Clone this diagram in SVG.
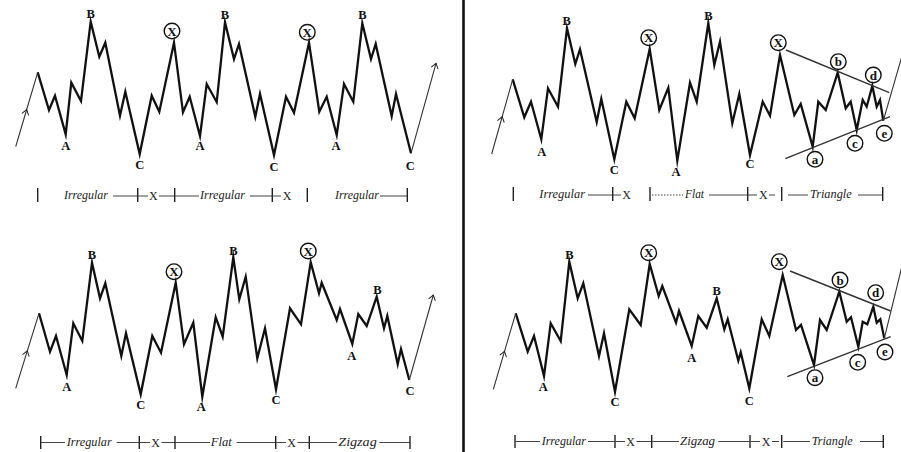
<svg xmlns="http://www.w3.org/2000/svg" width="901" height="452" viewBox="0 0 901 452">
<defs>
<marker id="chev" viewBox="-6 -5 8 10" markerWidth="8" markerHeight="10" markerUnits="userSpaceOnUse" orient="auto" refX="0" refY="0">
<path d="M-5,-3.5 L0,0 L-5,3.5" fill="none" stroke="#222" stroke-width="1"/>
</marker>
<style>
.wave{fill:none;stroke:#111;stroke-width:2.3;stroke-linejoin:miter;stroke-miterlimit:10}
.thin{fill:none;stroke:#333;stroke-width:1.1}
.trend{fill:none;stroke:#333;stroke-width:1.4}
.lbl{font-family:"Liberation Serif",serif;font-weight:bold;font-size:12.5px;fill:#111;text-anchor:middle}
.cl{font-family:"Liberation Serif",serif;font-weight:bold;font-size:13px;fill:#111;text-anchor:middle}
.circ{fill:none;stroke:#111;stroke-width:1.4}
.row{font-family:"Liberation Serif",serif;font-style:italic;font-size:12px;fill:#222}
.rx{font-family:"Liberation Serif",serif;font-size:12px;fill:#222;text-anchor:middle}
.tick{stroke:#222;stroke-width:1.4}
.rl{stroke:#444;stroke-width:1}
.div{stroke:#111;stroke-width:2.6}
</style>
</defs>
<rect x="0" y="0" width="901" height="452" fill="#ffffff"/>
<line class="div" x1="463.5" y1="0" x2="463.5" y2="452"/>

<!-- Top-left panel -->
<g id="tl-wave">
<path class="wave" d="M37.7,72.3 L49,110 L55,95.7 L65.7,134.3 L71.3,82.7 L81,101 L90.7,21.7 L99.3,56.7 L105.3,42.7 L120,115.7 L125.3,91.7 L139.7,154 L151.7,95.7 L159.3,111.7 L174,42.7 L183,112.3 L189.7,96.7 L200,136 L206.7,84 L216.7,102 L225,22.3 L234,59 L239,44 L255.3,116.7 L260,94 L274,155 L286,96.7 L294,112.7 L309,42.7 L319.3,111.7 L326.7,96.7 L336.7,135 L344,84 L353.3,101.7 L362.3,23.3 L371,59 L375.7,44 L391.7,116 L396,94 L411,153.3"/>
</g>
<g id="tl-labels">
<text class="lbl" x="90.7" y="18">B</text>
<text class="lbl" x="65.7" y="150">A</text>
<text class="lbl" x="139.7" y="168.5">C</text>
<circle class="circ" cx="172" cy="31" r="7.8"/><text class="cl" x="172" y="35.5">X</text>
<text class="lbl" x="200" y="150">A</text>
<text class="lbl" x="225" y="18.5">B</text>
<text class="lbl" x="274" y="171">C</text>
<circle class="circ" cx="307.3" cy="32.3" r="7.8"/><text class="cl" x="307.3" y="36.8">X</text>
<text class="lbl" x="336" y="149.5">A</text>
<text class="lbl" x="362.3" y="18.5">B</text>
<text class="lbl" x="410.3" y="170">C</text>
</g>
<g id="tl-row">
<line class="tick" x1="37.7" y1="188" x2="37.7" y2="202"/>
<text class="row" x="64" y="199" textLength="44" lengthAdjust="spacingAndGlyphs">Irregular</text>
<line class="rl" x1="113" y1="196" x2="137" y2="196"/>
<line class="tick" x1="137.7" y1="188" x2="137.7" y2="202"/>
<line class="rl" x1="138" y1="196" x2="148" y2="196"/>
<text class="rx" x="153.3" y="199.5">X</text>
<line class="rl" x1="159" y1="196" x2="174" y2="196"/>
<line class="tick" x1="174.7" y1="188" x2="174.7" y2="202"/>
<line class="rl" x1="175" y1="196" x2="199" y2="196"/>
<text class="row" x="200" y="199" textLength="45" lengthAdjust="spacingAndGlyphs">Irregular</text>
<line class="rl" x1="250" y1="196" x2="272" y2="196"/>
<line class="tick" x1="272.3" y1="188" x2="272.3" y2="202"/>
<line class="rl" x1="272.5" y1="196" x2="281" y2="196"/>
<text class="rx" x="287" y="199.5">X</text>
<line class="tick" x1="307.3" y1="188" x2="307.3" y2="202"/>
<text class="row" x="335" y="199" textLength="44" lengthAdjust="spacingAndGlyphs">Irregular</text>
<line class="rl" x1="380" y1="196" x2="407" y2="196"/>
<line class="tick" x1="407.3" y1="188" x2="407.3" y2="202"/>
</g>

<!-- Top-right panel -->
<g id="tr-wave">
<path class="wave" d="M512.7,79.3 L524.3,117.3 L531,101.7 L541.3,139.3 L548,88.3 L558,106.7 L567,28.3 L575.3,64 L580,49.3 L596.7,122 L601.3,99 L614.3,159.3 L626.3,101.7 L634.7,118.3 L649.7,49 L659.3,110 L668.3,87.7 L677.3,160.7 L690,82.7 L696.7,101.7 L708.3,23.3 L714.3,65 L720,41.7 L732.3,123.3 L739.3,94 L750,155 L762.7,101.7 L770,115.7 L780,55 L794.3,115 L800.7,104 L812.7,146.7 L818.3,101.7 L825.7,110 L837.7,72.7 L845.7,108.3 L850.7,101.7 L856.7,130 L862.7,100 L866.7,106.7 L872.3,86 L876.7,106.7 L880,100 L883.3,120.7"/>
<line class="trend" x1="786" y1="50" x2="889.3" y2="92.7"/>
<line class="trend" x1="785.3" y1="158.7" x2="890" y2="116.7"/>
</g>
<g id="tr-labels">
<text class="lbl" x="566.7" y="24.5">B</text>
<text class="lbl" x="541.7" y="156">A</text>
<text class="lbl" x="614.3" y="173.5">C</text>
<circle class="circ" cx="648.7" cy="37.7" r="7.8"/><text class="cl" x="648.7" y="42.2">X</text>
<text class="lbl" x="676" y="175.5">A</text>
<text class="lbl" x="708.3" y="19.5">B</text>
<text class="lbl" x="750" y="167.5">C</text>
<circle class="circ" cx="778.3" cy="42.7" r="7.8"/><text class="cl" x="778.3" y="47.2">X</text>
<circle class="circ" cx="838.3" cy="61.7" r="7.8"/><text class="cl" x="838.3" y="66.2">b</text>
<circle class="circ" cx="873.3" cy="75" r="7.8"/><text class="cl" x="873.3" y="79.5">d</text>
<circle class="circ" cx="815" cy="159.3" r="7.8"/><text class="cl" x="815" y="163.5">a</text>
<circle class="circ" cx="855" cy="143.3" r="7.8"/><text class="cl" x="855" y="147.5">c</text>
<circle class="circ" cx="884.3" cy="133.3" r="7.8"/><text class="cl" x="884.3" y="137.5">e</text>
</g>
<g id="tr-row">
<line class="tick" x1="513.3" y1="187" x2="513.3" y2="201"/>
<text class="row" x="539.3" y="198" textLength="45.7" lengthAdjust="spacingAndGlyphs">Irregular</text>
<line class="rl" x1="588" y1="195" x2="612" y2="195"/>
<line class="tick" x1="612.7" y1="187" x2="612.7" y2="201"/>
<line class="rl" x1="613" y1="195" x2="621" y2="195"/>
<text class="rx" x="626.7" y="198.5">X</text>
<line class="tick" x1="650" y1="187" x2="650" y2="201"/>
<line class="rl" x1="652" y1="195" x2="683" y2="195" stroke-dasharray="1.5 1.5" stroke="#888"/>
<text class="row" x="685" y="198" textLength="19" lengthAdjust="spacingAndGlyphs">Flat</text>
<line class="rl" x1="709" y1="195" x2="747" y2="195"/>
<line class="tick" x1="747.7" y1="187" x2="747.7" y2="201"/>
<line class="rl" x1="748" y1="195" x2="757" y2="195"/>
<text class="rx" x="763.3" y="198.5">X</text>
<line class="rl" x1="769" y1="195" x2="775" y2="195"/>
<line class="tick" x1="781.7" y1="187" x2="781.7" y2="201"/>
<line class="rl" x1="788" y1="195" x2="808" y2="195"/>
<text class="row" x="810" y="198" textLength="41.7" lengthAdjust="spacingAndGlyphs">Triangle</text>
<line class="rl" x1="858" y1="195" x2="882" y2="195"/>
<line class="tick" x1="882.7" y1="187" x2="882.7" y2="201"/>
</g>

<!-- Bottom-left panel -->
<g id="bl-wave">
<path class="wave" d="M39,313.3 L50,351.7 L56,336 L66.7,375 L73.3,323.3 L82.3,341 L92,262.7 L100,298.3 L105.3,283.3 L121.3,356 L126,333.3 L140.7,394.3 L152.3,336 L161,352.7 L175.7,282.7 L184,344.3 L193.3,322.7 L202.3,396.7 L215.7,317.3 L222.7,336.7 L233.3,257.3 L239.3,299.3 L245.7,276.7 L257.3,358.3 L265,328.3 L276,389.3 L290,308.3 L301,324.3 L310.7,262.3 L319,293.3 L321.7,282.7 L336.7,320 L340,309 L352.3,344 L358.3,314 L366.7,326 L376.7,296.7 L384,328.3 L387.3,316 L397.7,364 L401,349 L409.3,380"/>
</g>
<g id="bl-labels">
<text class="lbl" x="92" y="258.5">B</text>
<text class="lbl" x="66.7" y="391">A</text>
<text class="lbl" x="140.7" y="408.5">C</text>
<circle class="circ" cx="174" cy="271.7" r="7.8"/><text class="cl" x="174" y="276.2">X</text>
<text class="lbl" x="201.3" y="410.5">A</text>
<text class="lbl" x="233.3" y="254.5">B</text>
<text class="lbl" x="276" y="403.5">C</text>
<circle class="circ" cx="308.3" cy="251" r="7.8"/><text class="cl" x="308.3" y="255.5">X</text>
<text class="lbl" x="351.7" y="359.5">A</text>
<text class="lbl" x="377.3" y="293.5">B</text>
<text class="lbl" x="410" y="395">C</text>
</g>
<g id="bl-row">
<line class="tick" x1="40.7" y1="436" x2="40.7" y2="449"/>
<line class="rl" x1="40.7" y1="442.5" x2="65" y2="442.5"/>
<text class="row" x="66.7" y="446" textLength="45" lengthAdjust="spacingAndGlyphs">Irregular</text>
<line class="rl" x1="116.7" y1="442.5" x2="139" y2="442.5"/>
<line class="tick" x1="139.3" y1="436" x2="139.3" y2="449"/>
<line class="rl" x1="139.5" y1="442.5" x2="150" y2="442.5"/>
<text class="rx" x="155.7" y="446.5">X</text>
<line class="rl" x1="161.5" y1="442.5" x2="175" y2="442.5"/>
<line class="tick" x1="175" y1="436" x2="175" y2="449"/>
<line class="rl" x1="175" y1="442.5" x2="210" y2="442.5"/>
<text class="row" x="210.7" y="446" textLength="21" lengthAdjust="spacingAndGlyphs">Flat</text>
<line class="rl" x1="236.7" y1="442.5" x2="275.5" y2="442.5"/>
<line class="tick" x1="275.7" y1="436" x2="275.7" y2="449"/>
<line class="rl" x1="276" y1="442.5" x2="286" y2="442.5"/>
<text class="rx" x="291.7" y="446.5">X</text>
<line class="rl" x1="297.5" y1="442.5" x2="309" y2="442.5"/>
<line class="tick" x1="309.3" y1="436" x2="309.3" y2="449"/>
<line class="rl" x1="309.5" y1="442.5" x2="337" y2="442.5"/>
<text class="row" x="338.3" y="446" textLength="38.4" lengthAdjust="spacingAndGlyphs">Zigzag</text>
<line class="rl" x1="379.3" y1="442.5" x2="410" y2="442.5"/>
<line class="tick" x1="410" y1="436" x2="410" y2="449"/>
</g>

<!-- Bottom-right panel -->
<g id="br-wave">
<path class="wave" d="M515.7,313.3 L527.7,351.7 L534,336 L544,376 L550.7,323.3 L560.7,341 L569.3,261.7 L577.7,298.3 L583.3,283.3 L599,356 L604,333.3 L615,391.7 L629.3,309.3 L640.7,325 L649.7,264 L658.7,296 L662.3,286 L676,322.7 L679,311 L691.7,346 L698.3,316 L706.7,327.7 L716.7,298.3 L724.3,329.3 L727.7,319.3 L738.3,360.7 L740.7,352.3 L749.3,388.3 L761.7,319.3 L769.3,336 L782.7,275 L796,330 L801,325 L814,365 L820,320 L826.7,330 L839.3,291.7 L846.7,321.7 L851,317.3 L858.3,346.7 L862.7,321.7 L867.3,324.3 L873.3,306.7 L876.7,322.7 L880.3,319.3 L884.3,338.3"/>
<line class="trend" x1="790" y1="271" x2="890.7" y2="311"/>
<line class="trend" x1="787.3" y1="376.7" x2="890.7" y2="336.7"/>
</g>
<g id="br-labels">
<text class="lbl" x="569.3" y="258.5">B</text>
<text class="lbl" x="543.3" y="391">A</text>
<text class="lbl" x="615" y="405.5">C</text>
<circle class="circ" cx="648.7" cy="252.7" r="7.8"/><text class="cl" x="648.7" y="257.2">X</text>
<text class="lbl" x="691.7" y="362">A</text>
<text class="lbl" x="716.7" y="295">B</text>
<text class="lbl" x="749.3" y="404.5">C</text>
<circle class="circ" cx="779.3" cy="261.7" r="7.8"/><text class="cl" x="779.3" y="266.2">X</text>
<circle class="circ" cx="840" cy="280" r="7.8"/><text class="cl" x="840" y="284.5">b</text>
<circle class="circ" cx="875.7" cy="292.7" r="7.8"/><text class="cl" x="875.7" y="297.2">d</text>
<circle class="circ" cx="815" cy="377.7" r="7.8"/><text class="cl" x="815" y="381.9">a</text>
<circle class="circ" cx="857.7" cy="362.3" r="7.8"/><text class="cl" x="857.7" y="366.5">c</text>
<circle class="circ" cx="885" cy="352" r="7.8"/><text class="cl" x="885" y="356.2">e</text>
</g>
<g id="br-row">
<line class="tick" x1="515" y1="435" x2="515" y2="448"/>
<line class="rl" x1="515" y1="441.5" x2="540" y2="441.5"/>
<text class="row" x="541.7" y="445" textLength="44.3" lengthAdjust="spacingAndGlyphs">Irregular</text>
<line class="rl" x1="588" y1="441.5" x2="614.5" y2="441.5"/>
<line class="tick" x1="615" y1="435" x2="615" y2="448"/>
<line class="rl" x1="615" y1="441.5" x2="625" y2="441.5"/>
<text class="rx" x="630.7" y="445.5">X</text>
<line class="rl" x1="636.5" y1="441.5" x2="651.5" y2="441.5"/>
<line class="tick" x1="651.7" y1="435" x2="651.7" y2="448"/>
<line class="rl" x1="652" y1="441.5" x2="679" y2="441.5"/>
<text class="row" x="680" y="445" textLength="35" lengthAdjust="spacingAndGlyphs">Zigzag</text>
<line class="rl" x1="718.3" y1="441.5" x2="749.5" y2="441.5"/>
<line class="tick" x1="750" y1="435" x2="750" y2="448"/>
<line class="rl" x1="750" y1="441.5" x2="760" y2="441.5"/>
<text class="rx" x="766" y="445.5">X</text>
<line class="rl" x1="772" y1="441.5" x2="779" y2="441.5"/>
<line class="tick" x1="781.7" y1="435" x2="781.7" y2="448"/>
<line class="rl" x1="783.3" y1="441.5" x2="810" y2="441.5"/>
<text class="row" x="811.7" y="445" textLength="41" lengthAdjust="spacingAndGlyphs">Triangle</text>
<line class="rl" x1="860" y1="441.5" x2="883" y2="441.5"/>
<line class="tick" x1="883.3" y1="435" x2="883.3" y2="448"/>
</g>

<!-- Connectors: lead-in and exit arrows -->
<g id="connectors">
<path class="thin" d="M15.7,146.7 L26.7,109.5 L37.7,72.3" marker-mid="url(#chev)"/>
<path class="thin" d="M411,153.3 L436,63.3" marker-end="url(#chev)"/>
<path class="thin" d="M491.7,154 L502.2,116.7 L512.7,79.3" marker-mid="url(#chev)"/>
<path class="thin" d="M883.3,120.7 L902,56"/>
<path class="thin" d="M15.7,388.3 L27.3,350.8 L39,313.3" marker-mid="url(#chev)"/>
<path class="thin" d="M409.3,380 L433.3,295" marker-end="url(#chev)"/>
<path class="thin" d="M493.3,389.3 L504.5,351.3 L515.7,313.3" marker-mid="url(#chev)"/>
<path class="thin" d="M884.3,338.3 L902,266"/>
</g>
</svg>
